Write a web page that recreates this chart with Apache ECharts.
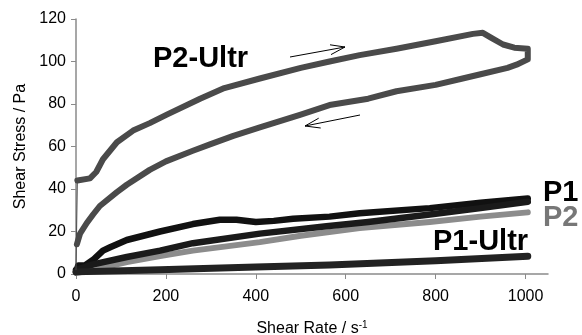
<!DOCTYPE html>
<html>
<head>
<meta charset="utf-8">
<script src="https://cdn.jsdelivr.net/npm/echarts@6/dist/echarts.min.js"></script>
<style>
  html, body { margin: 0; padding: 0; background: #fff; }
  #chart { width: 582px; height: 335px; }
</style>
</head>
<body>
<div id="chart"></div>
<script>
// tick values
const xTicks = [0, 200, 400, 600, 800, 1000]
const yTicks = [0, 20, 40, 60, 80, 100, 120]

// P2-Ultr: thin jump at start, then up-sweep, turn at 1000, down-sweep
const p2UltrStart = [[0, 2], [3, 44]]
const p2UltrLoop = [
  [3, 44], [31, 45], [45, 48], [60, 54], [91, 62], [127, 67.5], [164, 71],
  [202, 75], [276, 82.5], [330, 87.5], [409, 92], [500, 97], [564, 100],
  [631, 103], [713, 106], [800, 109.5], [883, 113], [905, 113.5], [925, 111],
  [950, 108], [975, 106.5], [1005, 106], [1005, 101], [980, 98.5], [960, 97],
  [900, 94], [860, 92], [800, 89], [713, 86], [650, 82.5], [564, 79.5],
  [500, 75], [409, 69], [350, 65], [298, 61], [260, 58], [200, 53], [164, 49],
  [113, 42], [91, 38.5], [53, 32], [38, 28], [24, 24], [9, 19], [2, 14]
]
// P1 loop
const p1Up = [
  [0, 1], [5, 4], [20, 4], [40, 7], [60, 11], [76, 12.6], [113, 16], [187, 20],
  [260, 23.5], [320, 25.5], [357, 25.5], [400, 24.5], [440, 25], [483, 26],
  [564, 27], [631, 28.6], [787, 31], [900, 33.5], [1005, 35.5]
]
const p1Down = [
  [1005, 34], [900, 31], [787, 28], [650, 24.5], [557, 22.5], [409, 19],
  [260, 14.5], [187, 11], [113, 8], [38, 4.5], [0, 2]
]
const p2 = [
  [0, 0.5], [50, 2.5], [113, 5.6], [187, 8.5], [260, 11], [409, 15], [500, 18],
  [631, 21.6], [787, 24.5], [900, 27], [1005, 29]
]
const p1Ultr = [
  [0, 1], [187, 2], [400, 3.3], [564, 4.2], [800, 6.2], [1005, 8.4]
]

const font = '"Liberation Sans", Arial, sans-serif'
const axisGray = '#8a8a8a'

function lineSeries(data, color, width, z) {
  return {
    type: 'line',
    data: data,
    showSymbol: false,
    symbol: 'none',
    z: z,
    lineStyle: { color: color, width: width, join: 'round', cap: 'round' }
  }
}

const myChart = echarts.init(document.getElementById('chart'))
myChart.setOption({
  animation: false,
  grid: { left: 76, right: 34, top: 19, bottom: 61, outerBoundsMode: 'none' },
  xAxis: {
    type: 'value',
    min: 0,
    max: 1050,
    interval: 200,
    splitLine: { show: false },
    axisLine: { lineStyle: { color: axisGray, width: 1.5 } },
    axisTick: { show: true, length: 5, lineStyle: { color: axisGray }, customValues: xTicks },
    axisLabel: {
      color: '#000', fontSize: 16, fontFamily: font, margin: 15,
      customValues: xTicks, formatter: v => String(v)
    },
    name: 'Shear Rate / s{sup|-1}',
    nameLocation: 'middle',
    nameGap: 46,
    nameTextStyle: {
      color: '#000',
      fontSize: 16,
      fontFamily: font,
      rich: {
        sup: { fontSize: 10, fontFamily: font, color: '#000', verticalAlign: 'top', padding: [0, 0, 8, 0] }
      }
    }
  },
  yAxis: {
    type: 'value',
    min: 0,
    max: 120,
    interval: 20,
    splitLine: { show: false },
    axisLine: { show: true, lineStyle: { color: axisGray, width: 1.5 } },
    axisTick: { show: true, length: 5, lineStyle: { color: axisGray }, customValues: yTicks },
    axisLabel: { color: '#000', fontSize: 16, fontFamily: font, margin: 10, customValues: yTicks },
    name: 'Shear Stress / Pa',
    nameLocation: 'middle',
    nameGap: 46,
    nameTextStyle: { color: '#000', fontSize: 16, fontFamily: font }
  },
  series: [
    lineSeries(p2, '#8c8c8c', 6, 2),
    lineSeries(p1Up, '#111', 6.5, 3),
    lineSeries(p1Down, '#1a1a1a', 6.5, 3),
    lineSeries(p1Ultr, '#222', 7, 3),
    lineSeries(p2UltrStart, '#4a4a4a', 1, 4),
    lineSeries(p2UltrLoop, '#4a4a4a', 6, 4)
  ],
  graphic: [
    { type: 'text', x: 153, y: 59, style: { text: 'P2-Ultr', font: 'bold 29px ' + font, fill: '#000', verticalAlign: 'middle' } },
    { type: 'text', x: 543, y: 193, style: { text: 'P1', font: 'bold 29px ' + font, fill: '#000', verticalAlign: 'middle' } },
    { type: 'text', x: 543, y: 218, style: { text: 'P2', font: 'bold 29px ' + font, fill: '#777', verticalAlign: 'middle' } },
    { type: 'text', x: 433, y: 242, style: { text: 'P1-Ultr', font: 'bold 29px ' + font, fill: '#000', verticalAlign: 'middle' } },
    { type: 'polyline', shape: { points: [[290, 57], [345, 47]] }, style: { stroke: '#000', lineWidth: 1, fill: null } },
    { type: 'polyline', shape: { points: [[330, 44.8], [345, 47], [331, 54.6]] }, style: { stroke: '#000', lineWidth: 1, fill: null } },
    { type: 'polyline', shape: { points: [[360, 115], [305, 126]] }, style: { stroke: '#000', lineWidth: 1, fill: null } },
    { type: 'polyline', shape: { points: [[318.7, 118.2], [305, 126], [320.7, 128]] }, style: { stroke: '#000', lineWidth: 1, fill: null } }
  ]
})
</script>
</body>
</html>
